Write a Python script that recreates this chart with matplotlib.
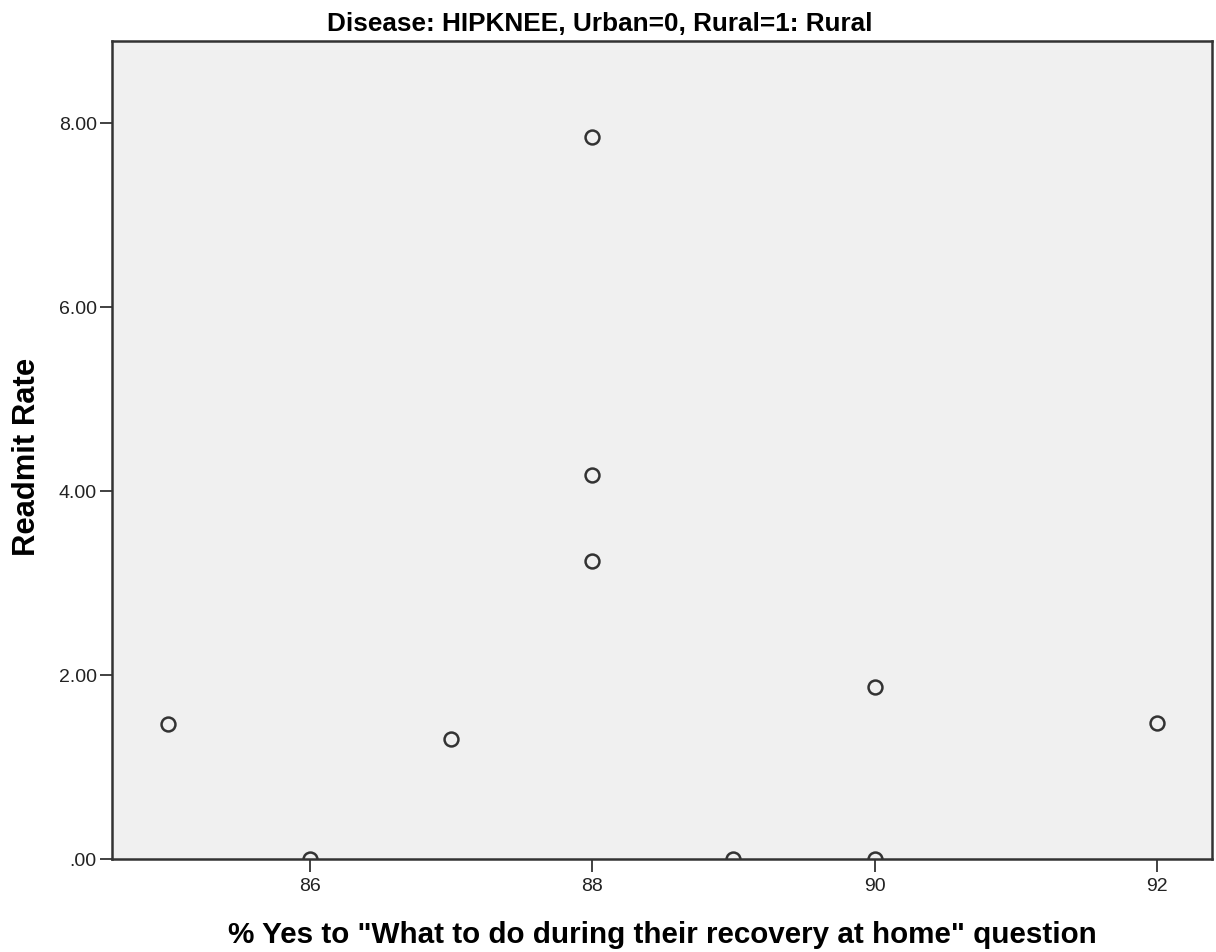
import matplotlib
matplotlib.use("Agg")
import matplotlib.pyplot as plt

plt.rcParams["font.family"] = ["Liberation Sans", "DejaVu Sans"]

# % Yes answers and readmit rates
pct_yes = [85, 86, 87, 88, 88, 88, 89, 90, 90, 92]
readmit = [1.47, 0.0, 1.30, 7.85, 4.17, 3.24, 0.0, 1.87, 0.0, 1.48]

x_ticks = [86, 88, 90, 92]
y_ticks = [0, 2, 4, 6, 8]
y_tick_labels = [".00", "2.00", "4.00", "6.00", "8.00"]

fig = plt.figure(figsize=(12.16, 9.53), dpi=100)
ax = fig.add_axes([0.0921, 0.0976, 0.9046, 0.8583])
ax.set_facecolor("#f0f0f0")

ax.plot(pct_yes, readmit, linestyle="none", marker="o", markersize=10,
        markerfacecolor="none", markeredgecolor="#333333", markeredgewidth=1.8)

ax.set_xlim(84.6, 92.39)
ax.set_ylim(0, 8.89)
ax.set_xticks(x_ticks)
ax.set_xticklabels([str(t) for t in x_ticks])
ax.set_yticks(y_ticks)
ax.set_yticklabels(y_tick_labels)
ax.tick_params(axis="both", direction="out", length=9, width=1.3,
               color="#333333", labelsize=14, labelcolor="#222222")
ax.tick_params(axis="x", pad=4)
ax.tick_params(axis="y", pad=2)

for s in ax.spines.values():
    s.set_linewidth(1.8)
    s.set_color("#333333")

# title sits centred on the figure, not on the axes
ax.set_title("Disease: HIPKNEE, Urban=0, Rural=1: Rural",
             fontsize=18.8, fontweight="bold", pad=8, x=0.4436)
ax.set_xlabel("% Yes to \"What to do during their recovery at home\" question",
              fontsize=21.3, fontweight="bold", labelpad=19)
ax.set_ylabel("Readmit Rate", fontsize=22.3, fontweight="bold")
ax.yaxis.set_label_coords(-0.064, 0.4927)

fig.savefig("out.png", dpi=100)
